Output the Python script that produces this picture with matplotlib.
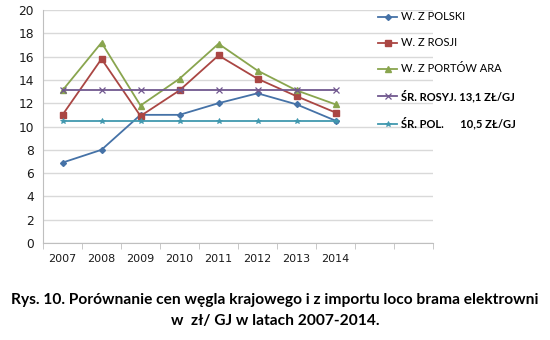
import numpy as np
import matplotlib
matplotlib.use('Agg')
import matplotlib.pyplot as plt
from matplotlib.ticker import MultipleLocator

# categories: 8 years plus two empty slots on the axis
years = ['2007', '2008', '2009', '2010', '2011', '2012', '2013', '2014']
n_slots = 10

w_polski = [6.9, 8.0, 11.0, 11.0, 12.0, 12.85, 11.9, 10.5]
w_rosji = [11.0, 15.8, 10.9, 13.1, 16.1, 14.1, 12.6, 11.2]
w_portow = [13.1, 17.2, 11.8, 14.1, 17.1, 14.8, 13.1, 11.9]
sr_rosyj = [13.1] * 8
sr_pol = [10.5] * 8

labels = ['W. Z POLSKI', 'W. Z ROSJI', 'W. Z PORTÓW ARA',
          'ŚR. ROSYJ. 13,1 ZŁ/GJ', 'ŚR. POL.      10,5 ZŁ/GJ']

plt.rcParams['font.family'] = ['Lato', 'DejaVu Sans']

fig = plt.figure(figsize=(5.5, 3.4), dpi=100)
ax = fig.add_axes([43 / 550, 1 - 243 / 340, 390 / 550, 233 / 340])

x = np.arange(len(years))
ax.plot(x, w_polski, color='#4572A7', marker='D', markersize=3, lw=1.3, label=labels[0])
ax.plot(x, w_rosji, color='#AA4643', marker='s', markersize=5, lw=1.3, label=labels[1])
ax.plot(x, w_portow, color='#89A54E', marker='^', markersize=5, lw=1.3, label=labels[2])
ax.plot(x, sr_rosyj, color='#71588F', marker='x', markersize=4, mew=0.9, lw=1.3, label=labels[3])
ax.plot(x, sr_pol, color='#4198AF', marker='*', markersize=4, mew=0.6, lw=1.3, label=labels[4])

ax.set_xlim(-0.5, n_slots - 0.5)
ax.set_ylim(0, 20)
ax.set_xticks(x)
ax.set_xticklabels(years, family='DejaVu Sans')
ax.set_xticks(np.arange(-0.5, n_slots, 1), minor=True)
ax.tick_params(axis='x', which='major', length=0, labelsize=8, pad=8, colors='#1a1a1a')
ax.tick_params(axis='x', which='minor', length=4, color='#BFBFBF')
ax.yaxis.set_major_locator(MultipleLocator(2))
for t in ax.get_yticklabels():
    t.set_family('DejaVu Sans')
ax.tick_params(axis='y', length=0, labelsize=8.8, pad=6.5, colors='#1a1a1a')
ax.grid(axis='y', color='#D9D9D9', lw=1)
ax.set_axisbelow(True)
for s in ['top', 'right']:
    ax.spines[s].set_visible(False)
ax.spines['left'].set_color('#BFBFBF')
ax.spines['bottom'].set_color('#BFBFBF')

leg = fig.legend(loc='upper left', bbox_to_anchor=(374 / 550, 1 - 7 / 340), frameon=False,
                 fontsize=8, handlelength=1.7, handletextpad=0.3, labelspacing=1.35,
                 borderaxespad=0)
for t in leg.get_texts()[3:]:
    t.set_fontweight('bold')

fig.text(0.5, 1 - 300 / 340, 'Rys. 10. Porównanie cen węgla krajowego i z importu loco brama elektrowni',
         ha='center', va='center', fontsize=11.2, fontweight='bold')
fig.text(0.5, 1 - 321 / 340, 'w  zł/ GJ w latach 2007-2014.',
         ha='center', va='center', fontsize=11.2, fontweight='bold')

fig.savefig('out.png', dpi=100)
